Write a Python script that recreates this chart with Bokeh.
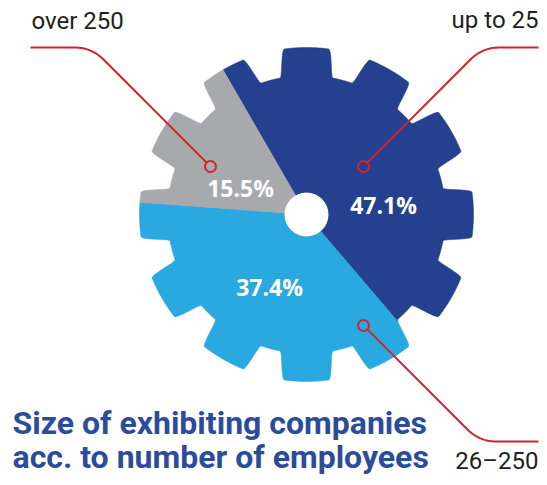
import numpy as np
from bokeh.plotting import figure
from bokeh.models import Range1d
from bokeh.core.properties import value
from bokeh.embed import file_html
from bokeh.resources import INLINE

# ---------------- data ----------------
categories = ["up to 25", "26\u2013250", "over 250"]
shares = [47.1, 37.4, 15.5]
pct_labels = ["47.1%", "37.4%", "15.5%"]
colors = ["#24408e", "#29a9e0", "#a7a9ac"]
title_lines = ["Size of exhibiting companies", "acc. to number of employees"]

# ---------------- layout constants (pixel coords, y down) ----------------
W, H = 539, 477
CX, CY = 306.0, 214.0
R_TIP, R_ROOT, R_HOLE = 167.0, 139.0, 22.0
N_TEETH = 12
TIP_HALF, BASE_HALF = 7.6, 11.0   # degrees
START_DEG = 120.0                 # first slice starts here, goes clockwise
RED = "#d2232a"
TEXT_DARK = "#231f20"
TITLE_BLUE = "#2b4c9b"
RIGHT_EDGE = 538
BASE_SHIFT = 0.39                 # svg text baseline correction (fraction of font size)

PCT_SIZE, CAT_SIZE, TITLE_SIZE = 23, 24, 32

pct_pos = [(383, 213), (269, 295), (240, 196)]          # visual baselines
anchor_pos = [(363, 166), (363, 325), (210, 166)]        # callout circles
cat_pos = [(RIGHT_EDGE, 29, "right"), (RIGHT_EDGE, 470, "right"), (31, 30, "left")]
title_pos = [(12, 435), (12, 469)]


def ty(y, size):
    return y - BASE_SHIFT * size


def gear_r(theta_deg):
    pitch = 360.0 / N_TEETH
    phi = ((theta_deg - 90.0 + pitch / 2) % pitch) - pitch / 2
    a = np.abs(phi)
    t = np.clip((BASE_HALF - a) / (BASE_HALF - TIP_HALF), 0, 1)
    s = t * t * (3 - 2 * t)
    return R_ROOT + (R_TIP - R_ROOT) * s


xs, ys = [], []
a0 = START_DEG
for sh in shares:
    sweep = sh / 100.0 * 360.0
    a1 = a0 - sweep
    th = np.linspace(a0, a1, int(sweep * 8) + 2)
    r = gear_r(th)
    px = CX + r * np.cos(np.radians(th))
    py = CY - r * np.sin(np.radians(th))
    xs.append([CX] + list(px))
    ys.append([CY] + list(py))
    a0 = a1

p = figure(width=W, height=H, x_range=Range1d(0, W), y_range=Range1d(H, 0),
           toolbar_location=None, output_backend="svg", min_border=0)
p.axis.visible = False
p.grid.visible = False
p.outline_line_color = None
p.background_fill_color = "white"
p.border_fill_color = "white"

p.patches(xs=xs, ys=ys, fill_color=colors, line_color=colors, line_width=0.6)
p.circle(x=[CX], y=[CY], radius=R_HOLE, fill_color="white", line_color=None)


# callout lines
def callout(anchor, corner, end_x, rr=17.0, mr=5.5):
    ax, ay = anchor
    kx, ky = corner
    dx, dy = ax - kx, ay - ky
    L = np.hypot(dx, dy)
    ux, uy = dx / L, dy / L
    b0 = (kx + ux * rr, ky + uy * rr)
    sgn = 1 if end_x > kx else -1
    b2 = (kx + sgn * rr, ky)
    t = np.linspace(0, 1, 20)
    bx = (1 - t) ** 2 * b0[0] + 2 * (1 - t) * t * kx + t ** 2 * b2[0]
    by = (1 - t) ** 2 * b0[1] + 2 * (1 - t) * t * ky + t ** 2 * b2[1]
    start = (ax - ux * mr, ay - uy * mr)
    lx = [start[0]] + list(bx) + [end_x]
    ly = [start[1]] + list(by) + [ky]
    return lx, ly


def corner_for(anchor, y_line, direction):
    ax, ay = anchor
    return (ax + direction * abs(ay - y_line), y_line)


lines = [
    callout(anchor_pos[0], corner_for(anchor_pos[0], 47, 1), RIGHT_EDGE),
    callout(anchor_pos[1], corner_for(anchor_pos[1], 441, 1), RIGHT_EDGE),
    callout(anchor_pos[2], corner_for(anchor_pos[2], 47, -1), 30),
]
p.multi_line(xs=[l[0] for l in lines], ys=[l[1] for l in lines], line_color=RED, line_width=2)
p.scatter(x=[a[0] for a in anchor_pos], y=[a[1] for a in anchor_pos], marker="circle",
          size=11, fill_color=None, line_color=RED, line_width=2)

# percentage labels
p.text(x=[q[0] for q in pct_pos], y=[ty(q[1], PCT_SIZE) for q in pct_pos], text=pct_labels,
       text_color="white", text_font=value("Open Sans"), text_font_style="bold",
       text_font_size=f"{PCT_SIZE}px", text_align="center", text_baseline="alphabetic")

# category labels
for (cx_, cy_, al), cat in zip(cat_pos, categories):
    p.text(x=[cx_], y=[ty(cy_, CAT_SIZE)], text=[cat], text_color=TEXT_DARK,
           text_font=value("Roboto"), text_font_size=f"{CAT_SIZE}px",
           text_align=al, text_baseline="alphabetic")

# title
p.text(x=[t[0] for t in title_pos], y=[ty(t[1], TITLE_SIZE) for t in title_pos], text=title_lines,
       text_color=TITLE_BLUE, text_font=value("Roboto"), text_font_style="bold",
       text_font_size=f"{TITLE_SIZE}px", text_align="left", text_baseline="alphabetic")

open("out.html", "w").write(file_html(p, INLINE))
